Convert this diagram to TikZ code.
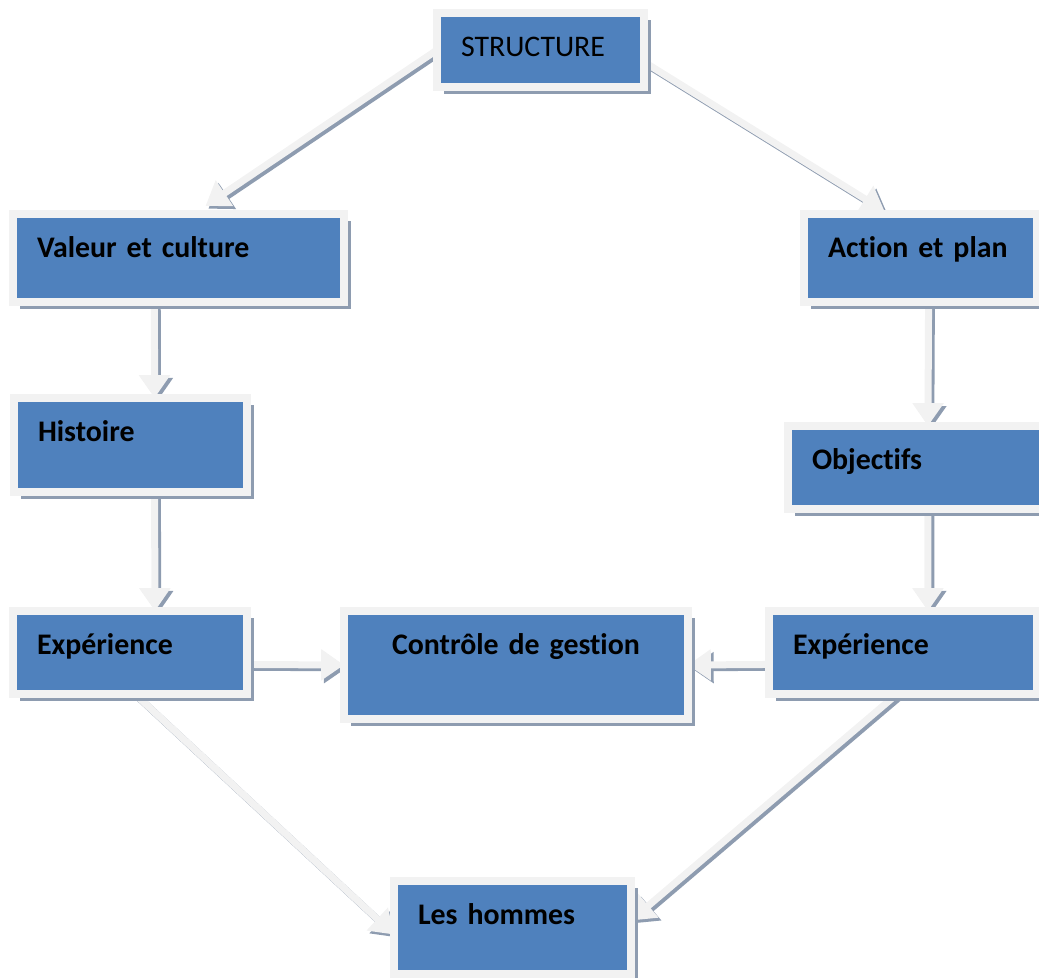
\documentclass[tikz,border=0pt]{standalone}
\usepackage{fontspec}
\setmainfont{Carlito}[Ligatures=NoCommon]
\usepackage{tikz}
\usetikzlibrary{arrows.meta,shadows,backgrounds}
\newdimen\pxu \pxu=0.02cm
\definecolor{boxblue}{HTML}{4F81BD}
\definecolor{boxrim}{HTML}{F2F2F2}
\definecolor{boxshade}{HTML}{8E9CB0}

\begin{document}
\begin{tikzpicture}[x=\pxu, y=-\pxu,
  box/.style={shape=rectangle, anchor=north west, outer sep=0pt, fill=boxblue, draw=boxrim,
    line width=8\pxu, inner xsep=24\pxu, inner ysep=0pt, text height=43\pxu,
    align=left, font=\fontsize{17}{20}\selectfont\bfseries,
    drop shadow={shadow xshift=7\pxu, shadow yshift=-7\pxu, fill=boxshade, opacity=1}},
  link/.style={draw=boxrim, line width=7\pxu, -{Triangle[width=17pt,length=13pt]}},
  linkshade/.style={link, draw=boxshade, transform canvas={xshift=1.6pt, yshift=-1.6pt}}]
  \useasboundingbox (0,0) rectangle (1039,978);
  \node[box, text width=159\pxu, text depth=31\pxu,
    font=\fontsize{17}{20}\selectfont] (structure) at (437,13) {STRUCTURE};
  \node[box, text width=283\pxu, text depth=45\pxu] (valeur) at (13,214) {Valeur et culture};
  \node[box, text width=185\pxu, text depth=45\pxu] (action) at (804,214) {Action et plan};
  \node[box, text width=185\pxu, text depth=51\pxu] (histoire) at (14,398) {Histoire};
  \node[box, text width=214\pxu, text depth=40\pxu] (objectifs) at (788,426) {Objectifs};
  \node[box, text width=186\pxu, text depth=40\pxu] (expgauche) at (13,611) {Expérience};
  \node[box, inner xsep=48\pxu, text width=248\pxu, text depth=65\pxu] (controle) at (344,611) {Contrôle de gestion};
  \node[box, text width=220\pxu, text depth=40\pxu] (expdroite) at (769,611) {Expérience};
  \node[box, text width=189\pxu, text depth=50\pxu] (hommes) at (394,881) {Les hommes};
  \coordinate (structure-out) at ([yshift=-6.8pt]structure.east);
  \coordinate (valeur-in) at ([xshift=15.4pt,yshift=4.6pt]valeur.north);
  \coordinate (action-in) at ([xshift=-20.5pt,yshift=1.7pt]action.north);
  \coordinate (valeur-out) at ([xshift=-13.7pt]valeur.south);
  \coordinate (histoire-in) at ([xshift=13.7pt]histoire.north);
  \coordinate (histoire-out) at ([xshift=13.7pt]histoire.south);
  \coordinate (expgauche-in) at ([xshift=14.2pt]expgauche.north);
  \coordinate (action-out) at ([xshift=4.6pt]action.south);
  \coordinate (objectifs-in) at ([xshift=5.1pt]objectifs.north);
  \coordinate (objectifs-out) at ([xshift=5.1pt]objectifs.south);
  \coordinate (expdroite-in) at ([xshift=14.2pt]expdroite.north);
  \coordinate (expgauche-side) at ([yshift=-6.8pt]expgauche.east);
  \coordinate (expdroite-side) at ([yshift=-6.8pt]expdroite.west);
  \coordinate (expgauche-out) at ([xshift=2.8pt]expgauche.south);
  \coordinate (expdroite-out) at ([xshift=-3.4pt]expdroite.south);
  \coordinate (hommes-left) at ([yshift=-4pt]hommes.west);
  \coordinate (hommes-right) at ([yshift=4pt]hommes.east);
  \begin{scope}[on background layer]
    \foreach \from/\to in {structure.west/valeur-in, structure-out/action-in,
        valeur-out/histoire-in, histoire-out/expgauche-in,
        action-out/objectifs-in, objectifs-out/expdroite-in,
        expgauche-side/controle.west, expdroite-side/controle.east,
        expgauche-out/hommes-left, expdroite-out/hommes-right}
      {\draw[linkshade] (\from) -- (\to);
       \draw[link] (\from) -- (\to);}
  \end{scope}
\end{tikzpicture}
\end{document}
